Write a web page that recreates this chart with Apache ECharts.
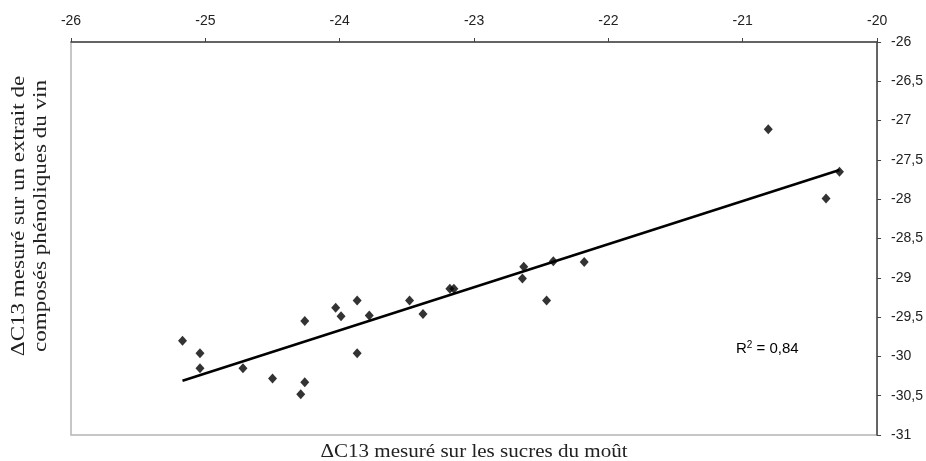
<!DOCTYPE html>
<html>
<head>
<meta charset="utf-8">
<script src="https://cdn.jsdelivr.net/npm/echarts@6/dist/echarts.min.js"></script>
<style>
  html, body { margin: 0; padding: 0; background: #fff; }
  #chart { width: 926px; height: 461px; }
</style>
</head>
<body>
<div id="chart"></div>
<script>
// delta C13 on must sugars (x) vs phenolic extract of wine (y)
const sugarValues = [
  -25.17, -25.04, -25.04, -24.72, -24.50, -24.29, -24.26, -24.26, -24.03,
  -23.99, -23.87, -23.87, -23.78, -23.48, -23.38, -23.18, -23.15, -22.63,
  -22.64, -22.46, -22.41, -22.18, -20.81, -20.28, -20.38
]
const phenolValues = [
  -29.80, -29.96, -30.15, -30.15, -30.28, -30.48, -30.33, -29.55, -29.38,
  -29.49, -29.29, -29.96, -29.48, -29.29, -29.46, -29.14, -29.14, -28.86,
  -29.01, -29.29, -28.79, -28.80, -27.11, -27.65, -27.99
]
const xTicks = [-26, -25, -24, -23, -22, -21, -20]
const yTicks = [-26, -26.5, -27, -27.5, -28, -28.5, -29, -29.5, -30, -30.5, -31]
const r2Label = '0,84'

const points = sugarValues.map((x, i) => [x, phenolValues[i]])

// least squares trend line, like the spreadsheet trendline
function trend(pts) {
  let n = pts.length
  let sx = 0, sy = 0, sxx = 0, sxy = 0
  pts.forEach(p => {
    sx += p[0]; sy += p[1]; sxx += p[0] * p[0]; sxy += p[0] * p[1]
  })
  let a = (n * sxy - sx * sy) / (n * sxx - sx * sx)
  let b = (sy - a * sx) / n
  let xmin = Math.min.apply(Math, sugarValues)
  let xmax = Math.max.apply(Math, sugarValues)
  return [[xmin, a * xmin + b], [xmax, a * xmax + b]]
}

const fmt = v => String(v).replace('.', ',')
const tickFont = { color: '#222', fontSize: 14, fontFamily: 'Liberation Sans, Arial' }

const chart = echarts.init(document.getElementById('chart'))
chart.setOption({
  animation: false,
  grid: {
    left: 71, right: 48, top: 42, bottom: 26,
    show: true,
    borderColor: '#b5b5b5',
    borderWidth: 1.5,
  },
  xAxis: {
    type: 'value',
    position: 'top',
    min: xTicks[0],
    max: xTicks[xTicks.length - 1],
    interval: 1,
    axisLine: { show: true, lineStyle: { color: '#444', width: 1.5 } },
    axisTick: { show: true, length: 4, lineStyle: { color: '#444' } },
    axisLabel: Object.assign({ margin: 14, formatter: fmt }, tickFont),
    splitLine: { show: false },
  },
  yAxis: {
    type: 'value',
    position: 'right',
    min: yTicks[yTicks.length - 1],
    max: yTicks[0],
    interval: 0.5,
    axisLine: { show: true, lineStyle: { color: '#444', width: 1.5 } },
    axisTick: { show: true, length: 4, lineStyle: { color: '#444' } },
    axisLabel: Object.assign({ margin: 14, formatter: fmt }, tickFont),
    splitLine: { show: false },
  },
  series: [
    {
      type: 'scatter',
      data: points,
      symbol: 'diamond',
      symbolSize: [9, 10],
      itemStyle: { color: '#000' },
      z: 3,
    },
    {
      type: 'line',
      data: trend(points),
      showSymbol: false,
      lineStyle: { color: '#000', width: 2.5 },
      z: 2,
    },
  ],
  graphic: [
    {
      type: 'text',
      left: 736,
      top: 340,
      style: {
        text: 'R{sup|2} = ' + r2Label,
        fill: '#000',
        font: '15px Liberation Sans, Arial',
        rich: {
          sup: { fontSize: 10, verticalAlign: 'top', padding: [0, 0, 8, 0] },
        },
      },
    },
    {
      type: 'text',
      x: 30,
      y: 216,
      rotation: Math.PI / 2,
      scaleX: 1.28,
      style: {
        text: 'ΔC13 mesuré sur un extrait de\ncomposés phénoliques du vin',
        fill: '#222',
        font: '18px Liberation Serif, Times New Roman',
        lineHeight: 22,
        align: 'center',
        verticalAlign: 'middle',
      },
    },
    {
      type: 'text',
      x: 474,
      y: 452,
      scaleX: 1.17,
      style: {
        text: 'ΔC13 mesuré sur les sucres du moût',
        fill: '#222',
        font: '18px Liberation Serif, Times New Roman',
        align: 'center',
        verticalAlign: 'middle',
      },
    },
  ],
})
</script>
</body>
</html>
